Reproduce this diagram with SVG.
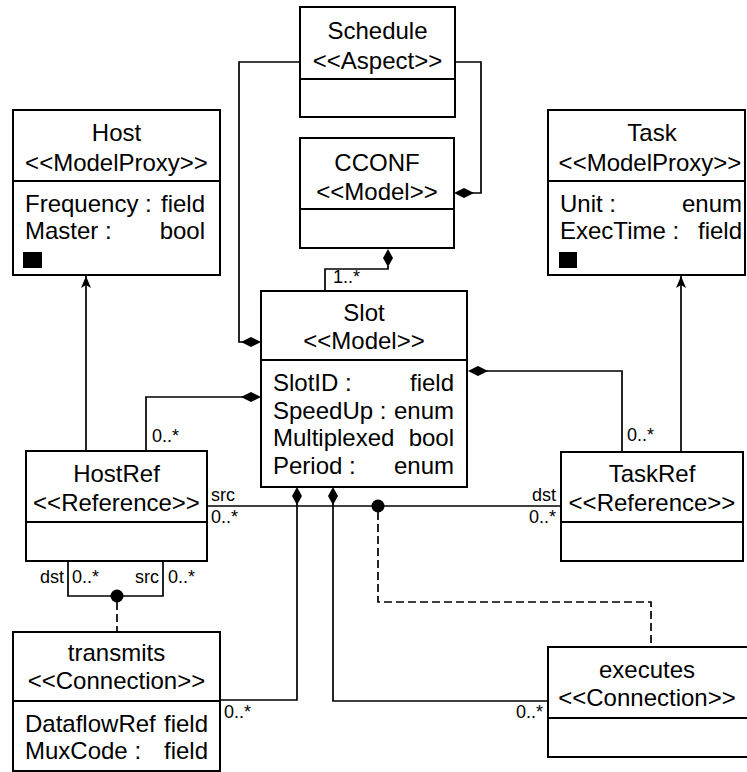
<svg xmlns="http://www.w3.org/2000/svg" width="747" height="772" viewBox="0 0 747 772">
  <style>
    .box { fill: #ffffff; stroke: #000000; stroke-width: 2; }
    .div { stroke: #000000; stroke-width: 2; }
    .t { font-family: "Liberation Sans", Arial, Helvetica, sans-serif; font-size: 24px; fill: #000000; }
    .c { text-anchor: middle; }
    .e { text-anchor: end; }
    .lbl { font-family: "Liberation Sans", Arial, Helvetica, sans-serif; font-size: 18px; fill: #000000; }
    .ln { fill: none; stroke: #000000; stroke-width: 1.7; }
    .dash { fill: none; stroke: #000000; stroke-width: 1.7; stroke-dasharray: 8 4; }
    .dot { fill: #000000; }
  </style>
  <defs>
    <marker id="arrow" viewBox="0 0 12 10" refX="12" refY="5" markerWidth="12" markerHeight="10" markerUnits="userSpaceOnUse" orient="auto">
      <path d="M0,0 L12,5 L0,10 L3,5 Z" fill="#000000"/>
    </marker>
    <path id="diamondH" d="M0,0 L10,-5 L20,0 L10,5 Z" fill="#000000"/>
    <path id="diamondV" d="M0,0 L-5,9 L0,18 L5,9 Z" fill="#000000"/>
  </defs>

  <!-- connectors -->
  <g id="connectors">
    <!-- Schedule aspect to Slot -->
    <polyline class="ln" points="300,62 239,62 239,342 245,342"/>
    <use href="#diamondH" x="241" y="342"/>
    <!-- Schedule aspect to CCONF -->
    <polyline class="ln" points="455,62 481,62 481,193 470,193"/>
    <use href="#diamondH" x="454" y="193"/>
    <!-- CCONF contains Slot -->
    <use href="#diamondV" x="388" y="249"/>
    <polyline class="ln" points="388,266 388,269 325,269 325,291"/>
    <text class="lbl" x="333" y="283">1..*</text>
    <!-- Slot contains HostRef -->
    <polyline class="ln" points="250,397 146,397 146,451"/>
    <use href="#diamondH" x="241" y="397"/>
    <text class="lbl" x="152" y="442">0..*</text>
    <!-- Slot contains TaskRef -->
    <polyline class="ln" points="480,371 622,371 622,452"/>
    <use href="#diamondH" x="468" y="371"/>
    <text class="lbl" x="627" y="441">0..*</text>
    <!-- references to proxies -->
    <line class="ln" x1="86" y1="451" x2="86" y2="276" marker-end="url(#arrow)"/>
    <line class="ln" x1="681" y1="452" x2="681" y2="276" marker-end="url(#arrow)"/>
    <!-- executes: HostRef src to TaskRef dst -->
    <line class="ln" x1="207" y1="506" x2="561" y2="506"/>
    <text class="lbl" x="211" y="501">src</text>
    <text class="lbl" x="211" y="523">0..*</text>
    <text class="lbl e" x="556" y="501">dst</text>
    <text class="lbl e" x="556" y="523">0..*</text>
    <circle class="dot" cx="378" cy="506" r="6.5"/>
    <polyline class="dash" points="378,512 378,602 651,602 651,647"/>
    <!-- transmits: HostRef to HostRef -->
    <polyline class="ln" points="68,561 68,596 163,596 163,561"/>
    <text class="lbl e" x="64" y="583">dst</text>
    <text class="lbl" x="72" y="583">0..*</text>
    <text class="lbl e" x="159" y="583">src</text>
    <text class="lbl" x="168" y="583">0..*</text>
    <circle class="dot" cx="117" cy="596" r="6.5"/>
    <line class="dash" x1="117" y1="602" x2="117" y2="632"/>
    <!-- Slot contains transmits -->
    <use href="#diamondV" x="297" y="487"/>
    <polyline class="ln" points="297,503 297,700 220,700"/>
    <text class="lbl" x="224" y="718">0..*</text>
    <!-- Slot contains executes -->
    <use href="#diamondV" x="333" y="487"/>
    <polyline class="ln" points="333,503 333,701 548,701"/>
    <text class="lbl e" x="543" y="718">0..*</text>
  </g>

  <!-- Schedule -->
  <g id="schedule">
    <rect class="box" x="300" y="7" width="155" height="110"/>
    <line class="div" x1="300" y1="79" x2="455" y2="79"/>
    <text class="t c" x="377.5" y="39">Schedule</text>
    <text class="t c" x="377.5" y="69">&lt;&lt;Aspect&gt;&gt;</text>
  </g>

  <!-- CCONF -->
  <g id="cconf">
    <rect class="box" x="300" y="138" width="154" height="110"/>
    <line class="div" x1="300" y1="209" x2="454" y2="209"/>
    <text class="t c" x="377" y="171">CCONF</text>
    <text class="t c" x="377" y="200">&lt;&lt;Model&gt;&gt;</text>
  </g>

  <!-- Host -->
  <g id="host">
    <rect class="box" x="13" y="110" width="207" height="165"/>
    <line class="div" x1="13" y1="181" x2="220" y2="181"/>
    <text class="t c" x="116.5" y="141">Host</text>
    <text class="t c" x="116.5" y="171">&lt;&lt;ModelProxy&gt;&gt;</text>
    <text class="t" x="25" y="212">Frequency :</text>
    <text class="t e" x="205" y="212">field</text>
    <text class="t" x="25" y="239">Master :</text>
    <text class="t e" x="205" y="239">bool</text>
    <rect x="23" y="252" width="19" height="16" fill="#000000"/>
  </g>

  <!-- Task -->
  <g id="task">
    <rect class="box" x="548" y="110" width="197" height="165"/>
    <line class="div" x1="548" y1="181" x2="745" y2="181"/>
    <text class="t c" x="652" y="141">Task</text>
    <text class="t c" x="650" y="171">&lt;&lt;ModelProxy&gt;&gt;</text>
    <text class="t" x="560" y="212">Unit :</text>
    <text class="t e" x="742" y="212">enum</text>
    <text class="t" x="560" y="239">ExecTime :</text>
    <text class="t e" x="742" y="239">field</text>
    <rect x="559" y="252" width="18" height="16" fill="#000000"/>
  </g>

  <!-- Slot -->
  <g id="slot">
    <rect class="box" x="261" y="291" width="206" height="196"/>
    <line class="div" x1="261" y1="360" x2="467" y2="360"/>
    <text class="t c" x="364" y="321">Slot</text>
    <text class="t c" x="364" y="349">&lt;&lt;Model&gt;&gt;</text>
    <text class="t" x="273" y="391">SlotID :</text>
    <text class="t e" x="454" y="391">field</text>
    <text class="t" x="273" y="419">SpeedUp :</text>
    <text class="t e" x="454" y="419">enum</text>
    <text class="t" x="273" y="446">Multiplexed</text>
    <text class="t e" x="454" y="446">bool</text>
    <text class="t" x="273" y="474">Period :</text>
    <text class="t e" x="454" y="474">enum</text>
  </g>

  <!-- HostRef -->
  <g id="hostref">
    <rect class="box" x="26" y="451" width="181" height="110"/>
    <line class="div" x1="26" y1="522" x2="207" y2="522"/>
    <text class="t c" x="116.5" y="482">HostRef</text>
    <text class="t c" x="116.5" y="511">&lt;&lt;Reference&gt;&gt;</text>
  </g>

  <!-- TaskRef -->
  <g id="taskref">
    <rect class="box" x="561" y="452" width="182" height="109"/>
    <line class="div" x1="561" y1="522" x2="743" y2="522"/>
    <text class="t c" x="652" y="482">TaskRef</text>
    <text class="t c" x="652" y="511">&lt;&lt;Reference&gt;&gt;</text>
  </g>

  <!-- transmits -->
  <g id="transmits">
    <rect class="box" x="13" y="632" width="207" height="139"/>
    <line class="div" x1="13" y1="701" x2="220" y2="701"/>
    <text class="t c" x="116.5" y="661">transmits</text>
    <text class="t c" x="116.5" y="689">&lt;&lt;Connection&gt;&gt;</text>
    <text class="t" x="25" y="732">DataflowRef</text>
    <text class="t e" x="208" y="732">field</text>
    <text class="t" x="25" y="759">MuxCode :</text>
    <text class="t e" x="208" y="759">field</text>
  </g>

  <!-- executes -->
  <g id="executes">
    <rect class="box" x="548" y="647" width="200" height="110"/>
    <line class="div" x1="548" y1="718" x2="748" y2="718"/>
    <text class="t c" x="647" y="678">executes</text>
    <text class="t c" x="647" y="706">&lt;&lt;Connection&gt;&gt;</text>
  </g>
</svg>
